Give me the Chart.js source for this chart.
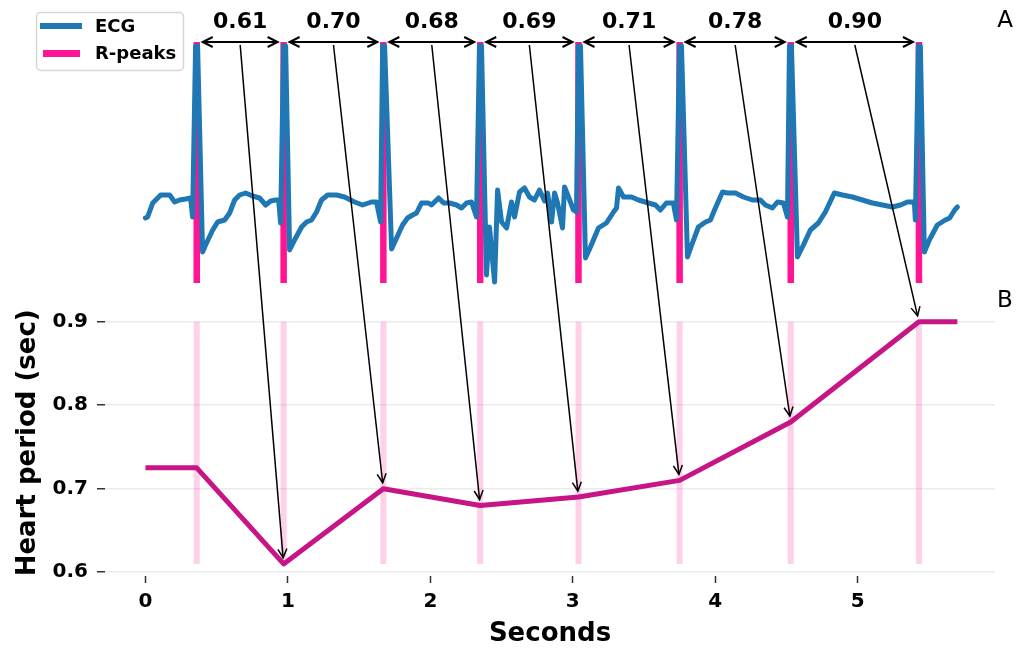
<!DOCTYPE html>
<html>
<head>
<meta charset="utf-8">
<script src="https://cdn.jsdelivr.net/npm/chart.js@4.4.1/dist/chart.umd.min.js"></script>
<style>
  html, body { margin: 0; padding: 0; background: #fff; }
  #wrap { width: 1030px; height: 650px; }
</style>
</head>
<body>
<div id="wrap"><canvas id="chart" width="1030" height="650"></canvas></div>
<script>
const FONT = "'DejaVu Sans', sans-serif";

// ECG trace: time (s) and amplitude (mV)
const ecgTime = [
  0.000, 0.015, 0.051, 0.107, 0.170, 0.205, 0.240, 0.282, 0.317, 0.331, 0.352, 0.366, 0.401, 0.422, 0.472,
  0.507, 0.556, 0.591, 0.626, 0.661, 0.703, 0.752, 0.801, 0.844, 0.879, 0.914, 0.935, 0.949, 0.970, 0.984,
  1.012, 1.047, 1.096, 1.131, 1.166, 1.201, 1.236, 1.279, 1.342, 1.398, 1.468, 1.524, 1.587, 1.622, 1.651,
  1.665, 1.679, 1.728, 1.763, 1.805, 1.840, 1.875, 1.903, 1.938, 1.987,
  2.008, 2.058, 2.093, 2.135, 2.184, 2.219, 2.254, 2.289, 2.324, 2.345, 2.359, 2.394, 2.415, 2.451, 2.472,
  2.500, 2.535, 2.570, 2.591, 2.626, 2.661, 2.696, 2.731, 2.766, 2.802, 2.823, 2.851, 2.872, 2.893, 2.928,
  2.942, 2.970,
  3.005, 3.026, 3.040, 3.054, 3.089, 3.124, 3.180, 3.236, 3.286, 3.307, 3.321, 3.356, 3.412, 3.461, 3.531,
  3.580, 3.615, 3.657, 3.706, 3.728, 3.749, 3.763, 3.805, 3.840, 3.882, 3.932, 3.966,
  4.001, 4.051, 4.086, 4.142, 4.198, 4.261, 4.317, 4.352, 4.401, 4.437, 4.479, 4.507, 4.521, 4.535, 4.577,
  4.619, 4.668, 4.724, 4.773, 4.836, 4.893, 4.963,
  5.033, 5.103, 5.174, 5.244, 5.300, 5.349, 5.398, 5.405, 5.426, 5.440, 5.468, 5.503, 5.559, 5.615, 5.646,
  5.681, 5.700
];
const ecgMv = [
  -0.18, -0.17, -0.03, 0.05, 0.05, -0.02, 0.00, 0.01, 0.02, -0.17, 1.54, 1.54, -0.52, -0.45, -0.30,
  -0.22, -0.20, -0.13, 0.00, 0.05, 0.07, 0.04, 0.02, -0.05, -0.01, 0.00, 0.00, -0.23, 1.54, 1.54,
  -0.50, -0.40, -0.27, -0.22, -0.20, -0.12, 0.00, 0.05, 0.05, 0.03, -0.02, -0.05, -0.02, -0.02, -0.22,
  1.54, 1.54, -0.49, -0.38, -0.25, -0.18, -0.15, -0.13, -0.03, -0.03,
  -0.05, 0.02, -0.03, -0.03, -0.05, -0.08, -0.03, -0.02, -0.17, 1.54, 1.54, -0.75, -0.27, -0.82, 0.10,
  -0.22, -0.28, -0.02, -0.17, 0.08, 0.12, 0.03, 0.00, 0.10, -0.01, 0.07, -0.22, 0.07, -0.03, -0.28,
  0.13, 0.03,
  -0.10, -0.12, 1.54, 1.54, -0.58, -0.47, -0.28, -0.23, -0.12, -0.08, 0.12, 0.03, 0.03, 0.00, -0.03,
  -0.05, -0.10, -0.03, -0.03, -0.20, 1.54, 1.54, -0.57, -0.43, -0.27, -0.22, -0.20,
  -0.08, 0.08, 0.07, 0.07, 0.03, 0.00, 0.00, -0.05, -0.08, -0.02, -0.03, -0.17, 1.54, 1.54, -0.57,
  -0.45, -0.30, -0.23, -0.12, 0.07, 0.05, 0.03,
  0.00, -0.03, -0.05, -0.07, -0.05, -0.02, -0.02, -0.20, 1.54, 1.54, -0.52, -0.40, -0.25, -0.20, -0.18,
  -0.10, -0.07
];
const ecgRange = [-0.83, 1.58];   // extent of the R-peak markers

// R-peaks and the heart period derived from them
const rPeaks = [0.36, 0.97, 1.67, 2.35, 3.04, 3.75, 4.53, 5.43];
const rrIntervals = [0.61, 0.70, 0.68, 0.69, 0.71, 0.78, 0.90];
const hpTime = [0, 0.36, 0.97, 1.67, 2.35, 3.04, 3.75, 4.53, 5.43, 5.70];
const hpSec = [0.725, 0.725, 0.61, 0.70, 0.68, 0.69, 0.71, 0.78, 0.90, 0.90];

const xTicks = [0, 1, 2, 3, 4, 5];
const yTicks = [0.6, 0.7, 0.8, 0.9];

const ECG_COLOR = "#1f77b4";
const PEAK_COLOR = "#ff1493";
const HP_COLOR = "#c71585";

// vertical segments separated by gaps
const vlines = (xs, lo, hi) => xs.flatMap(x => [{ x, y: lo }, { x, y: hi }, { x, y: null }]);

function head(ctx, tx, ty, ux, uy, len, half) {
  const bx = tx - ux * len, by = ty - uy * len;
  ctx.beginPath();
  ctx.moveTo(bx - uy * half, by + ux * half);
  ctx.lineTo(tx, ty);
  ctx.lineTo(bx + uy * half, by - ux * half);
  ctx.stroke();
}

const annotations = {
  id: "annotations",
  afterDatasetsDraw(chart) {
    const { ctx, scales: { x, yE, y } } = chart;
    const yTop = yE.getPixelForValue(ecgRange[1]);
    ctx.save();
    ctx.strokeStyle = "#000";
    ctx.fillStyle = "#000";
    ctx.lineCap = "butt";
    ctx.lineJoin = "miter";
    rrIntervals.forEach((rr, i) => {
      const xa = x.getPixelForValue(rPeaks[i]);
      const xb = x.getPixelForValue(rPeaks[i + 1]);
      const mid = (xa + xb) / 2;

      // <-> between consecutive peaks
      ctx.lineWidth = 2;
      const s = xa + 6, e = xb - 6;
      ctx.beginPath();
      ctx.moveTo(s, yTop);
      ctx.lineTo(e, yTop);
      ctx.stroke();
      head(ctx, s, yTop, -1, 0, 10, 5);
      head(ctx, e, yTop, 1, 0, 10, 5);

      ctx.font = `bold 22px ${FONT}`;
      ctx.textAlign = "center";
      ctx.textBaseline = "alphabetic";
      ctx.fillText(rr.toFixed(2), mid, yTop - 14);

      // arrow down to the heart period value
      const tx = xb, ty = y.getPixelForValue(rr);
      const sx = mid, sy = yTop + 3;
      const L = Math.hypot(tx - sx, ty - sy);
      const ux = (tx - sx) / L, uy = (ty - sy) / L;
      const ex = tx - ux * 6, ey = ty - uy * 6;
      ctx.lineWidth = 1.5;
      ctx.beginPath();
      ctx.moveTo(sx, sy);
      ctx.lineTo(ex, ey);
      ctx.stroke();
      head(ctx, ex, ey, ux, uy, 9, 4.5);
    });
    ctx.restore();
  },
  afterDraw(chart) {
    const { ctx, chartArea, scales: { yE, y } } = chart;
    ctx.save();
    // legend box
    ctx.fillStyle = "rgba(255,255,255,0.85)";
    ctx.strokeStyle = "#d6d6d6";
    ctx.lineWidth = 1.5;
    ctx.beginPath();
    ctx.roundRect(36.5, 12.5, 147, 58, 4);
    ctx.fill();
    ctx.stroke();
    ctx.lineCap = "butt";
    ctx.strokeStyle = ECG_COLOR;
    ctx.lineWidth = 6;
    ctx.beginPath(); ctx.moveTo(40, 26); ctx.lineTo(82, 26); ctx.stroke();
    ctx.strokeStyle = PEAK_COLOR;
    ctx.lineWidth = 7;
    ctx.beginPath(); ctx.moveTo(43, 53.5); ctx.lineTo(80, 53.5); ctx.stroke();
    ctx.fillStyle = "#000";
    ctx.font = `bold 18px ${FONT}`;
    ctx.textAlign = "left";
    ctx.textBaseline = "middle";
    ctx.fillText("ECG", 95, 27);
    ctx.fillText("R-peaks", 95, 54);

    // panel letters
    ctx.font = `23px ${FONT}`;
    ctx.textAlign = "center";
    ctx.fillText("A", chartArea.right + 10, yE.getPixelForValue(ecgRange[1]) - 21);
    ctx.fillText("B", chartArea.right + 10, y.top - 9);
    ctx.restore();
  }
};

const tickFont = { family: FONT, size: 20, weight: "bold" };
const titleFont = { family: FONT, size: 26, weight: "bold" };

new Chart(document.getElementById("chart"), {
  type: "line",
  data: {
    datasets: [
      {
        label: "ECG",
        data: ecgTime.map((t, i) => ({ x: t, y: ecgMv[i] })),
        yAxisID: "yE",
        borderColor: ECG_COLOR,
        borderWidth: 5,
        borderJoinStyle: "round",
        borderCapStyle: "round",
        pointRadius: 0,
        tension: 0,
        order: 1,
      },
      {
        label: "R-peaks",
        data: vlines(rPeaks, ecgRange[0], ecgRange[1]),
        yAxisID: "yE",
        borderColor: PEAK_COLOR,
        borderWidth: 6.5,
        pointRadius: 0,
        spanGaps: false,
        order: 2,
      },
      {
        label: "Heart period",
        data: hpTime.map((t, i) => ({ x: t, y: hpSec[i] })),
        yAxisID: "y",
        borderColor: HP_COLOR,
        borderWidth: 5,
        borderJoinStyle: "round",
        pointRadius: 0,
        tension: 0,
        order: 1,
      },
      {
        label: "peak bands",
        data: vlines(rPeaks, Math.min(...rrIntervals), Math.max(...rrIntervals)),
        yAxisID: "y",
        borderColor: "rgba(255,20,147,0.2)",
        borderWidth: 6,
        pointRadius: 0,
        spanGaps: false,
        order: 2,
      },
    ],
  },
  options: {
    responsive: false,
    animation: false,
    events: [],
    layout: { padding: { left: 0, right: 35, top: 0, bottom: 0 } },
    plugins: { legend: { display: false }, tooltip: { enabled: false } },
    scales: {
      x: {
        type: "linear",
        min: -0.284,
        max: 5.964,
        afterBuildTicks: (s) => { s.ticks = xTicks.map(v => ({ value: v })); },
        afterFit: (s) => { s.height = 74; s.paddingLeft = 0; s.paddingRight = 0; },
        grid: { drawOnChartArea: false, tickLength: 7, tickColor: "#333", tickWidth: 1.5 },
        border: { display: false },
        ticks: { font: tickFont, color: "#000", padding: 7, callback: (v) => String(v) },
        title: { display: true, text: "Seconds", font: titleFont, color: "#000", padding: { top: 0, bottom: 0 } },
      },
      yE: {
        type: "linear",
        position: "left",
        stack: "panels",
        stackWeight: 309.6,
        weight: 2,
        min: -1.096,
        max: 2.0,
        afterFit: (s) => { s.width = 0; s.paddingTop = 0; s.paddingBottom = 0; },
        ticks: { display: false },
        grid: { display: false },
        border: { display: false },
      },
      y: {
        type: "linear",
        position: "left",
        stack: "panels",
        stackWeight: 266.4,
        weight: 1,
        min: 0.5955,
        max: 0.9145,
        afterBuildTicks: (s) => { s.ticks = yTicks.map(v => ({ value: v })); },
        afterFit: (s) => { s.width = 105; s.paddingTop = 0; s.paddingBottom = 0; },
        grid: { color: "rgba(0,0,0,0.08)", lineWidth: 1.5, tickLength: 8, tickColor: "#333", tickWidth: 1.5 },
        border: { display: false },
        ticks: { font: tickFont, color: "#000", padding: 9, callback: (v) => v.toFixed(1) },
        title: { display: true, text: "Heart period (sec)", font: titleFont, color: "#000", padding: { top: 13, bottom: 0 } },
      },
    },
  },
  plugins: [annotations],
});
</script>
</body>
</html>
